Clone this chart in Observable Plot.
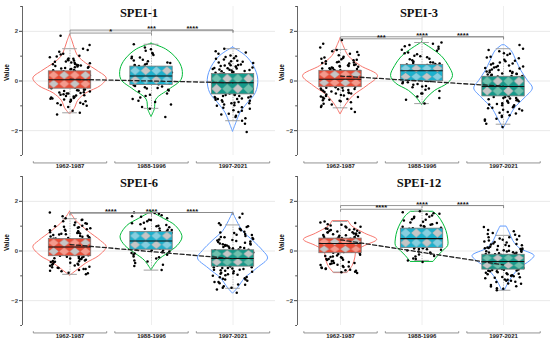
<!DOCTYPE html>
<html><head><meta charset="utf-8">
<script src="https://cdn.jsdelivr.net/npm/d3@7"></script>
<script src="https://cdn.jsdelivr.net/npm/@observablehq/plot@0.6"></script>
<style>
body{margin:0;background:#fff;}
#grid{display:grid;grid-template-columns:275px 275px;grid-template-rows:170px 170px;width:550px;height:340px;}
#grid svg{display:block;}
</style></head><body><div id="grid"></div>
<script>
// ---------- data ----------
const periods = ["1962-1987", "1988-1996", "1997-2021"];
const titles = ["SPEI-1", "SPEI-3", "SPEI-6", "SPEI-12"];

// monthly SPEI values per period (read from the jittered points)
const spei1_g1 = [-1.35,-1.28,-1.2,-1.05,-0.97,-0.93,-0.88,-0.84,-0.8,-0.76,-0.71,-0.68,-0.64,-0.6,-0.57,-0.53,-0.5,-0.46,-0.42,-0.38,-0.34,-0.31,-0.29,-0.26,-0.24,-0.21,-0.19,-0.16,-0.14,-0.12,-0.1,-0.08,-0.06,-0.04,-0.02,0.0,0.01,0.03,0.04,0.05,0.06,0.08,0.09,0.11,0.13,0.15,0.17,0.19,0.21,0.23,0.25,0.27,0.29,0.31,0.33,0.35,0.37,0.39,0.41,0.44,0.47,0.5,0.53,0.56,0.6,0.63,0.67,0.71,0.75,0.79,0.83,0.87,0.91,0.96,1.02,1.1,1.18,1.3,1.45,1.82,
  0.43,0.48,0.52,0.58,0.62,0.68,0.73,0.78,0.84,0.9,0.99,1.07,1.25,0.55,0.65,-0.35,-0.4,-0.45,-0.5,-0.55,-0.62,-0.66,-0.74,-0.82,-0.9,-1.0,-0.58,-0.48,-0.7,-0.37];
const spei1_g2 = [-1.45,-1.12,-1.05,-0.85,-0.72,-0.6,-0.5,-0.42,-0.35,-0.28,-0.22,-0.17,-0.13,-0.09,-0.05,-0.01,0.03,0.07,0.11,0.15,0.18,0.2,0.23,0.26,0.3,0.34,0.38,0.42,0.46,0.5,0.54,0.57,0.6,0.64,0.69,0.74,0.8,0.86,0.92,0.98,1.05,1.13,1.22,1.35,1.48,
  0.62,0.72,0.83,0.95,1.1,1.28,0.66,-0.2,-0.3,-0.38,-0.55,-0.66,-0.8,-0.95,-0.25];
const spei1_g3 = [-2.05,-1.72,-1.6,-1.5,-1.4,-1.32,-1.25,-1.18,-1.12,-1.06,-1.0,-0.95,-0.9,-0.85,-0.8,-0.76,-0.72,-0.68,-0.64,-0.6,-0.56,-0.53,-0.5,-0.47,-0.44,-0.41,-0.38,-0.35,-0.32,-0.29,-0.26,-0.23,-0.2,-0.17,-0.14,-0.12,-0.1,-0.08,-0.07,-0.05,-0.03,0.0,0.02,0.04,0.06,0.08,0.1,0.12,0.14,0.16,0.18,0.2,0.22,0.24,0.26,0.28,0.3,0.33,0.36,0.39,0.42,0.45,0.48,0.51,0.54,0.57,0.6,0.63,0.66,0.7,0.74,0.78,0.82,0.87,0.92,0.97,1.03,1.1,1.2,1.3,
  0.3,0.35,0.4,0.46,0.52,0.58,0.64,0.72,0.8,0.9,1.0,1.15,0.44,0.5,0.62,-0.56,-0.6,-0.66,-0.72,-0.78,-0.84,-0.9,-0.98,-1.08,-1.2,-1.35,-1.45,-0.62,-0.7,-0.88];

const spei3_g1 = [-1.25,-1.12,-1.0,-0.92,-0.86,-0.8,-0.75,-0.7,-0.66,-0.62,-0.58,-0.54,-0.5,-0.46,-0.42,-0.39,-0.36,-0.33,-0.3,-0.27,-0.25,-0.23,-0.21,-0.19,-0.17,-0.15,-0.13,-0.11,-0.09,-0.07,-0.05,-0.03,-0.01,0.01,0.02,0.04,0.05,0.06,0.07,0.08,0.1,0.12,0.14,0.16,0.18,0.2,0.22,0.24,0.26,0.28,0.3,0.32,0.34,0.36,0.38,0.4,0.42,0.45,0.48,0.51,0.54,0.57,0.6,0.63,0.66,0.69,0.72,0.76,0.8,0.84,0.88,0.93,0.98,1.04,1.1,1.17,1.25,1.35,1.5,1.65,
  0.43,0.47,0.52,0.58,0.64,0.7,0.78,0.86,0.95,1.05,1.2,0.5,0.6,0.74,0.9,-0.27,-0.32,-0.38,-0.44,-0.5,-0.56,-0.64,-0.72,-0.82,-0.95,-1.05,-0.35,-0.48,-0.6,-0.78];
const spei3_g2 = [-0.91,-0.75,-0.62,-0.5,-0.4,-0.3,-0.22,-0.15,-0.09,-0.04,0.0,0.05,0.1,0.15,0.2,0.25,0.29,0.33,0.37,0.4,0.41,0.43,0.46,0.49,0.52,0.55,0.58,0.61,0.64,0.66,0.7,0.74,0.79,0.84,0.9,0.96,1.02,1.08,1.15,1.22,1.3,1.38,1.45,1.5,1.55,
  0.68,0.76,0.88,1.0,1.12,1.26,1.4,0.72,-0.05,-0.12,-0.25,-0.35,-0.5,-0.68,-0.2];
const spei3_g3 = [-1.85,-1.72,-1.6,-1.52,-1.45,-1.38,-1.31,-1.25,-1.19,-1.13,-1.08,-1.03,-0.98,-0.93,-0.88,-0.83,-0.78,-0.73,-0.68,-0.64,-0.61,-0.58,-0.55,-0.52,-0.49,-0.46,-0.43,-0.4,-0.37,-0.34,-0.31,-0.28,-0.26,-0.24,-0.22,-0.2,-0.18,-0.16,-0.14,-0.12,-0.1,-0.08,-0.06,-0.04,-0.02,0.0,0.02,0.04,0.06,0.08,0.1,0.12,0.14,0.16,0.18,0.2,0.23,0.26,0.29,0.32,0.35,0.38,0.42,0.46,0.5,0.54,0.58,0.62,0.66,0.7,0.75,0.8,0.86,0.92,0.98,1.05,1.12,1.2,1.3,1.45,
  0.2,0.25,0.3,0.36,0.44,0.52,0.6,0.7,0.82,0.95,1.1,1.25,0.28,0.4,0.56,-0.64,-0.7,-0.76,-0.82,-0.9,-0.98,-1.06,-1.16,-1.28,-1.4,-1.55,-0.68,-0.8,-0.95,-1.1];

const spei6_g1 = [-0.94,-0.88,-0.82,-0.77,-0.72,-0.67,-0.63,-0.59,-0.55,-0.51,-0.47,-0.44,-0.41,-0.38,-0.35,-0.32,-0.29,-0.26,-0.23,-0.21,-0.19,-0.17,-0.15,-0.13,-0.11,-0.09,-0.07,-0.05,-0.03,-0.01,0.01,0.03,0.05,0.07,0.09,0.11,0.13,0.14,0.15,0.16,0.17,0.19,0.21,0.23,0.25,0.27,0.29,0.31,0.33,0.35,0.37,0.39,0.41,0.43,0.45,0.47,0.49,0.52,0.55,0.58,0.61,0.64,0.67,0.7,0.73,0.76,0.8,0.84,0.88,0.92,0.96,1.0,1.05,1.1,1.15,1.2,1.26,1.32,1.4,1.55,
  0.5,0.54,0.6,0.66,0.72,0.78,0.86,0.94,1.02,1.12,1.25,0.57,0.69,0.82,0.98,-0.23,-0.28,-0.33,-0.4,-0.46,-0.52,-0.58,-0.65,-0.72,-0.8,-0.9,-0.3,-0.43,-0.55,-0.68];
const spei6_g2 = [-0.77,-0.6,-0.48,-0.38,-0.3,-0.22,-0.15,-0.08,-0.02,0.03,0.06,0.1,0.14,0.18,0.22,0.26,0.3,0.34,0.37,0.4,0.42,0.45,0.49,0.53,0.57,0.61,0.65,0.69,0.73,0.77,0.81,0.86,0.91,0.96,1.02,1.08,1.14,1.2,1.26,1.32,1.38,1.44,1.5,1.53,1.55,
  0.8,0.9,1.0,1.12,1.25,1.4,0.85,1.05,0.02,-0.05,-0.15,-0.25,-0.42,-0.55,-0.1];
const spei6_g3 = [-1.68,-1.55,-1.48,-1.42,-1.36,-1.3,-1.25,-1.2,-1.15,-1.1,-1.05,-1.0,-0.96,-0.92,-0.88,-0.84,-0.8,-0.76,-0.72,-0.68,-0.65,-0.62,-0.59,-0.56,-0.53,-0.5,-0.47,-0.45,-0.43,-0.41,-0.39,-0.37,-0.35,-0.33,-0.31,-0.3,-0.28,-0.26,-0.24,-0.22,-0.2,-0.18,-0.16,-0.14,-0.12,-0.1,-0.08,-0.06,-0.04,-0.02,0.0,0.03,0.06,0.09,0.12,0.15,0.18,0.21,0.24,0.27,0.3,0.33,0.36,0.4,0.44,0.48,0.52,0.56,0.6,0.64,0.68,0.72,0.78,0.84,0.9,0.97,1.05,1.12,1.35,1.5,
  0.05,0.1,0.16,0.22,0.3,0.38,0.46,0.55,0.65,0.75,0.88,1.0,0.12,0.26,0.42,-0.65,-0.7,-0.75,-0.82,-0.9,-0.98,-1.06,-1.15,-1.25,-1.35,-1.48,-0.68,-0.78,-0.94,-1.12];

const spei12_g1 = [-0.89,-0.84,-0.8,-0.76,-0.72,-0.68,-0.64,-0.6,-0.56,-0.52,-0.48,-0.44,-0.4,-0.36,-0.32,-0.28,-0.24,-0.2,-0.15,-0.1,-0.07,-0.04,-0.01,0.02,0.05,0.08,0.1,0.12,0.14,0.16,0.18,0.2,0.22,0.24,0.25,0.26,0.27,0.28,0.29,0.3,0.31,0.32,0.33,0.34,0.35,0.36,0.37,0.38,0.39,0.4,0.41,0.42,0.43,0.44,0.45,0.46,0.47,0.48,0.49,0.5,0.52,0.55,0.58,0.61,0.64,0.67,0.7,0.73,0.76,0.79,0.82,0.85,0.88,0.91,0.95,0.99,1.03,1.08,1.13,1.19,
  0.52,0.56,0.6,0.65,0.7,0.76,0.82,0.9,0.98,1.06,1.15,0.54,0.63,0.74,0.86,-0.12,-0.18,-0.25,-0.32,-0.4,-0.48,-0.55,-0.62,-0.7,-0.78,-0.86,-0.22,-0.35,-0.5,-0.66];
const spei12_g2 = [-0.44,-0.38,-0.3,-0.22,-0.14,-0.06,0.02,0.07,0.11,0.14,0.18,0.23,0.28,0.33,0.38,0.42,0.46,0.49,0.5,0.52,0.56,0.6,0.64,0.68,0.72,0.76,0.8,0.84,0.88,0.9,0.94,0.98,1.03,1.08,1.13,1.18,1.23,1.28,1.33,1.38,1.43,1.48,1.52,1.56,1.6,
  0.92,0.98,1.06,1.15,1.26,1.38,1.5,1.0,0.1,0.05,-0.02,-0.1,-0.2,-0.32,0.08];
const spei12_g3 = [-1.58,-1.5,-1.43,-1.37,-1.31,-1.25,-1.2,-1.15,-1.1,-1.06,-1.02,-0.98,-0.94,-0.9,-0.86,-0.82,-0.79,-0.76,-0.74,-0.72,-0.7,-0.68,-0.66,-0.64,-0.62,-0.6,-0.58,-0.56,-0.54,-0.52,-0.5,-0.48,-0.46,-0.44,-0.43,-0.42,-0.41,-0.4,-0.38,-0.36,-0.34,-0.32,-0.3,-0.28,-0.26,-0.24,-0.22,-0.2,-0.18,-0.16,-0.15,-0.13,-0.11,-0.09,-0.07,-0.05,-0.03,-0.01,0.01,0.03,0.05,0.08,0.11,0.14,0.17,0.2,0.23,0.26,0.3,0.34,0.38,0.42,0.46,0.5,0.55,0.6,0.65,0.72,0.85,0.97,
  -0.12,-0.06,0.0,0.06,0.12,0.2,0.28,0.36,0.45,0.55,0.68,0.8,-0.02,0.1,0.24,-0.77,-0.82,-0.88,-0.94,-1.0,-1.08,-1.16,-1.24,-1.32,-1.42,-1.52,-0.8,-0.92,-1.05,-1.2];

// box statistics per period: [lower whisker, Q1, median, Q3, upper whisker]
const spei1_box = [[-1.28,-0.31,0.05,0.39,1.3],[-1.1,-0.16,0.2,0.58,1.48],[-1.6,-0.54,-0.07,0.28,1.3]];
const spei3_box = [[-1.08,-0.25,0.07,0.41,1.27],[-0.91,-0.01,0.41,0.65,1.55],[-1.74,-0.62,-0.22,0.17,1.3]];
const spei6_box = [[-0.94,-0.21,0.16,0.48,1.3],[-0.77,0.05,0.4,0.77,1.54],[-1.5,-0.63,-0.3,0.03,1.05]];
const spei12_box = [[-0.85,-0.09,0.3,0.5,1.19],[-0.38,0.12,0.5,0.9,1.6],[-1.58,-0.75,-0.42,-0.15,0.63]];

// violin profiles per period: [value, half density width]
const spei1_violin = [
  [[1.86,0],[1.6,0.03],[1.3,0.06],[1.0,0.1],[0.7,0.2],[0.4,0.34],[0.1,0.45],[-0.2,0.38],[-0.5,0.2],[-0.8,0.1],[-1.1,0.06],[-1.35,0]],
  [[1.5,0],[1.27,0.18],[0.86,0.32],[0.46,0.38],[0.05,0.37],[-0.35,0.22],[-0.75,0.06],[-1.15,0.04],[-1.45,0]],
  [[1.35,0],[1.0,0.16],[0.57,0.26],[0.05,0.31],[-0.49,0.28],[-0.9,0.18],[-1.3,0.09],[-1.7,0.04],[-2.05,0]]];
const spei3_violin = [
  [[1.71,0],[1.4,0.04],[1.0,0.1],[0.6,0.25],[0.2,0.46],[-0.2,0.33],[-0.6,0.16],[-1.0,0.06],[-1.35,0]],
  [[1.55,0],[1.3,0.12],[1.0,0.24],[0.6,0.33],[0.2,0.38],[-0.1,0.32],[-0.4,0.16],[-0.7,0.06],[-0.97,0]],
  [[1.43,0.02],[1.2,0.1],[0.8,0.16],[0.4,0.22],[0.0,0.3],[-0.3,0.36],[-0.7,0.26],[-1.1,0.14],[-1.5,0.07],[-1.93,0]]];
const spei6_violin = [
  [[1.58,0],[1.2,0.08],[0.8,0.22],[0.4,0.38],[0.16,0.45],[-0.2,0.36],[-0.5,0.2],[-0.8,0.08],[-1.0,0]],
  [[1.57,0],[1.3,0.15],[1.0,0.3],[0.55,0.38],[0.2,0.32],[-0.1,0.2],[-0.4,0.08],[-0.78,0]],
  [[1.54,0],[1.2,0.05],[0.8,0.12],[0.4,0.25],[0.0,0.37],[-0.3,0.43],[-0.7,0.3],[-1.1,0.15],[-1.5,0.06],[-1.72,0]]];
const spei12_violin = [
  [[1.19,0.1],[1.0,0.14],[0.7,0.3],[0.45,0.45],[0.2,0.3],[0.0,0.2],[-0.3,0.18],[-0.6,0.15],[-0.89,0.08]],
  [[1.57,0.14],[1.4,0.2],[1.1,0.26],[0.8,0.3],[0.5,0.32],[0.2,0.32],[0.0,0.26],[-0.2,0.2],[-0.44,0.14]],
  [[0.97,0.04],[0.7,0.08],[0.4,0.12],[0.1,0.2],[-0.2,0.38],[-0.4,0.33],[-0.7,0.2],[-1.0,0.12],[-1.3,0.06],[-1.58,0.02]]];

// linear trend across periods: [value at first period, value at last period]
const spei1_trend = [0.07, -0.07];
const spei3_trend = [0.2, -0.21];
const spei6_trend = [0.26, -0.31];
const spei12_trend = [0.45, -0.56];

// significance brackets: [from period, to period, height, label]
const spei1_sig = [[1,2,1.93,"*"],[1,3,2.05,"***"],[2,3,2.05,"****"]];
const spei3_sig = [[1,2,1.7,"***"],[1,3,1.78,"****"],[2,3,1.78,"****"]];
const spei6_sig = [[1,2,1.52,"****"],[1,3,1.55,"****"],[2,3,1.55,"****"]];
const spei12_sig = [[1,2,1.68,"****"],[1,3,1.83,"****"],[2,3,1.83,"****"]];

// ---------- styles ----------
const violinColors = ["#F8766D", "#00BA38", "#619CFF"];
const boxBase = ["#EC4A34", "#1AB2CF", "#13998A"];
const boxLight = ["#F59A8C", "#86CFE0", "#6FC1AE"];
const boxGray = "#C6C6C6";

const panels = [
  {title: titles[0], pts: [spei1_g1, spei1_g2, spei1_g3], box: spei1_box, violin: spei1_violin, trend: spei1_trend, sig: spei1_sig},
  {title: titles[1], pts: [spei3_g1, spei3_g2, spei3_g3], box: spei3_box, violin: spei3_violin, trend: spei3_trend, sig: spei3_sig},
  {title: titles[2], pts: [spei6_g1, spei6_g2, spei6_g3], box: spei6_box, violin: spei6_violin, trend: spei6_trend, sig: spei6_sig},
  {title: titles[3], pts: [spei12_g1, spei12_g2, spei12_g3], box: spei12_box, violin: spei12_violin, trend: spei12_trend, sig: spei12_sig}
];

function hash(n) { const s = Math.sin(n * 12.9898 + 78.233) * 43758.5453; return s - Math.floor(s); }
const fmtTick = d => d < 0 ? "\u2212" + Math.abs(d) : String(d);

function addPatterns(svg, k) {
  const ns = "http://www.w3.org/2000/svg";
  const defs = document.createElementNS(ns, "defs");
  for (let g = 0; g < 3; g++) {
    const pat = document.createElementNS(ns, "pattern");
    pat.setAttribute("id", `pat${k}_${g}`);
    pat.setAttribute("patternUnits", "objectBoundingBox");
    pat.setAttribute("patternContentUnits", "objectBoundingBox");
    pat.setAttribute("width", "0.5");
    pat.setAttribute("height", "1");
    const bg = document.createElementNS(ns, "rect");
    bg.setAttribute("x", 0); bg.setAttribute("y", 0); bg.setAttribute("width", 0.5); bg.setAttribute("height", 1);
    bg.setAttribute("fill", boxBase[g]);
    pat.appendChild(bg);
    const cells = [[0.125, 0.25, boxLight[g]], [0.375, 0.25, boxGray], [0.125, 0.75, boxGray], [0.375, 0.75, boxLight[g]]];
    for (const [cx, cy, col] of cells) {
      const p = document.createElementNS(ns, "polygon");
      p.setAttribute("points", `${cx-0.12},${cy} ${cx},${cy-0.24} ${cx+0.12},${cy} ${cx},${cy+0.24}`);
      p.setAttribute("fill", col);
      p.setAttribute("stroke", "#6a6a6a");
      p.setAttribute("stroke-width", "0.006");
      pat.appendChild(p);
    }
    defs.appendChild(pat);
  }
  svg.insertBefore(defs, svg.firstChild);
}

function panel(P, k) {
  const left = k % 2 === 0;
  const xmin = left ? 0.417 : 0.472;
  const xmax = xmin + 253 / 81.5;
  const bw = 0.26;
  const marks = [];
  marks.push(Plot.gridY({ticks: [-2, 0, 2], stroke: "#e9e9e9", strokeOpacity: 1}));
  marks.push(Plot.gridX({ticks: [1, 2, 3], stroke: "#eeeeee", strokeOpacity: 1}));
  // violins
  P.violin.forEach((prof, g) => {
    marks.push(Plot.areaX(prof, {y: d => d[0], x1: d => g + 1 - d[1], x2: d => g + 1 + d[1],
      curve: "catmull-rom", fill: "none", stroke: violinColors[g], strokeWidth: 1}));
  });
  // whiskers
  P.box.forEach((b, g) => {
    const c = g + 1;
    marks.push(Plot.link([[b[3], b[4]], [b[1], b[0]]], {x1: () => c, x2: () => c, y1: d => d[0], y2: d => d[1],
      stroke: "#9a9a9a", strokeWidth: 0.8, strokeDasharray: "1,1.5"}));
    marks.push(Plot.ruleY([b[0], b[4]], {y: d => d, x1: () => c - 0.09, x2: () => c + 0.09, stroke: "#a0a0a0", strokeWidth: 1}));
  });
  // jittered points
  const pts = [];
  P.pts.forEach((arr, g) => arr.forEach((v, i) => pts.push({x: g + 1 + (hash(i + 97 * g + 1013 * k) - 0.5) * 0.5, y: v})));
  marks.push(Plot.dot(pts, {x: "x", y: "y", r: 1.25, fill: "black", stroke: "none"}));
  // boxes
  P.box.forEach((b, g) => {
    const c = g + 1;
    marks.push(Plot.rect([b], {x1: () => c - bw, x2: () => c + bw, y1: d => d[1], y2: d => d[3],
      fill: `url(#pat${k}_${g})`, stroke: "#7a7a7a", strokeWidth: 0.8}));
    marks.push(Plot.ruleY([b], {y: d => d[2], x1: () => c - bw, x2: () => c + bw, stroke: "#111", strokeWidth: 1.1}));
  });
  // trend line
  marks.push(Plot.line([[1, P.trend[0]], [3, P.trend[1]]], {x: d => d[0], y: d => d[1],
    stroke: "#222", strokeWidth: 1.3, strokeDasharray: "4,2.5"}));
  // significance brackets
  const segs = [];
  P.sig.forEach(([a, b, y]) => {
    segs.push([a, y, b, y]);
    segs.push([a, y, a, y - 0.1]);
    segs.push([b, y, b, y - 0.1]);
  });
  marks.push(Plot.link(segs, {x1: d => d[0], y1: d => d[1], x2: d => d[2], y2: d => d[3], stroke: "#8a8a8a", strokeWidth: 0.9}));
  marks.push(Plot.text(P.sig, {x: d => (d[0] + d[1]) / 2, y: d => d[2], text: d => d[3], dy: 1,
    lineAnchor: "bottom", fontSize: 7.5, fontWeight: "bold", fill: "#111"}));
  // y axis
  marks.push(Plot.ruleX([xmin], {y1: () => -3, y2: () => 3, stroke: "#555", strokeWidth: 0.9}));
  marks.push(Plot.axisY({ticks: [-2, 0, 2], tickSize: 3, tickPadding: 1.5, tickFormat: fmtTick, fontSize: 6, fontWeight: "bold", color: "#444", label: null}));
  marks.push(Plot.axisY({ticks: [-3, -1, 1, 3], tickSize: 1.8, tickFormat: () => "", label: null, color: "#555"}));
  marks.push(Plot.text(["Value"], {frameAnchor: "left", rotate: -90, dx: -16, fontSize: 6.5, fontWeight: "bold", fill: "#111"}));
  // category axis with caps
  const caps = [];
  [1, 2, 3].forEach(c => {
    caps.push([c - 0.45, -3.3, c + 0.45, -3.3]);
    caps.push([c - 0.45, -3.3, c - 0.45, -3.23]);
    caps.push([c + 0.45, -3.3, c + 0.45, -3.23]);
  });
  marks.push(Plot.link(caps, {x1: d => d[0], y1: d => d[1], x2: d => d[2], y2: d => d[3], stroke: "#888", strokeWidth: 0.9}));
  marks.push(Plot.axisX({ticks: [1, 2, 3], tickFormat: d => periods[d - 1], tickSize: 0, tickPadding: 8.5,
    fontSize: 6, fontWeight: "bold", color: "#222", label: null}));
  // title
  marks.push(Plot.text([P.title], {frameAnchor: "top", dx: left ? -10 : -5, dy: 6, lineAnchor: "middle",
    fontSize: 12.5, fontWeight: "bold", fontFamily: "Liberation Serif, Times New Roman, serif", fill: "#111"}));

  const svg = Plot.plot({
    width: 275, height: 170,
    marginLeft: 22, marginRight: 0, marginTop: 6, marginBottom: 15,
    x: {type: "linear", domain: [xmin, xmax], axis: null},
    y: {domain: [-3, 3], axis: null},
    style: {fontFamily: "Liberation Sans, Arial, sans-serif", background: "white", overflow: "visible"},
    marks
  });
  addPatterns(svg, k);
  return svg;
}

const grid = document.getElementById("grid");
panels.forEach((P, k) => grid.appendChild(panel(P, k)));
</script>
</body></html>
